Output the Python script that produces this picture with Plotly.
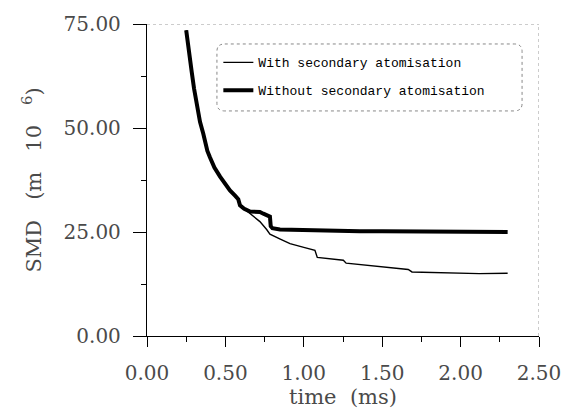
import plotly.graph_objects as go

# Sauter mean diameter history of the spray
time_without = [0.25, 0.27, 0.285, 0.30, 0.317, 0.338, 0.359, 0.37, 0.385, 0.402,
                0.43, 0.466, 0.50, 0.529, 0.56, 0.582, 0.593, 0.62, 0.657, 0.69,
                0.72, 0.742, 0.774, 0.784, 0.789, 0.80, 0.848, 0.95, 1.10, 1.27,
                1.358, 1.50, 1.70, 1.90, 2.10, 2.30]
smd_without = [73.5, 67.0, 63.5, 59.5, 56.0, 51.5, 48.6, 46.7, 44.5, 42.9,
               40.5, 38.3, 36.5, 35.0, 33.8, 32.9, 31.4, 30.6, 29.9, 29.9,
               29.8, 29.4, 28.8, 28.7, 26.4, 25.9, 25.6, 25.5, 25.4, 25.4,
               25.2, 25.2, 25.1, 25.0, 25.0, 25.0]

time_with = [0.25, 0.27, 0.285, 0.30, 0.317, 0.338, 0.359, 0.37, 0.385, 0.402,
             0.43, 0.466, 0.50, 0.529, 0.56, 0.582, 0.593, 0.62, 0.668, 0.72,
             0.763, 0.784, 0.85, 0.912, 1.00, 1.071, 1.086, 1.15, 1.252, 1.27,
             1.358, 1.486, 1.666, 1.69, 1.91, 2.12, 2.30]
smd_with = [73.5, 67.0, 63.5, 59.5, 56.0, 51.5, 48.6, 46.7, 44.5, 42.9,
            40.5, 38.3, 36.5, 35.0, 33.8, 32.9, 31.4, 30.6, 29.1, 27.5,
            25.6, 24.5, 23.3, 22.2, 21.3, 20.6, 18.9, 18.6, 18.2, 17.5,
            17.2, 16.6, 16.0, 15.4, 15.2, 15.0, 15.1]

x_ticks = [0.0, 0.5, 1.0, 1.5, 2.0, 2.5]
y_ticks = [0.0, 25.0, 50.0, 75.0]
series_names = ["With secondary atomisation", "Without secondary atomisation"]

SERIF = "DejaVu Serif"
INK = "#4a4a4a"

fig = go.Figure()
fig.add_trace(go.Scatter(
    x=time_with, y=smd_with, mode="lines", name=series_names[0],
    legendgroup="a", line=dict(color="black", width=1.4),
))
fig.add_trace(go.Scatter(
    x=time_without, y=smd_without, mode="lines", name=series_names[1],
    legendgroup="b", line=dict(color="black", width=4),
))

# dotted top and right frame edges
fig.add_shape(type="line", xref="x", yref="y", x0=0, x1=2.5, y0=75, y1=75,
              line=dict(color="#999999", width=1, dash="dot"))
fig.add_shape(type="line", xref="x", yref="y", x0=2.5, x1=2.5, y0=0, y1=75,
              line=dict(color="#999999", width=1, dash="dot"))

# rounded dotted frame around the legend
lx0, lx1, ly0, ly1 = 0.446, 2.392, 54.1, 70.2
rx, ry = 0.05, 1.8
path = (f"M {lx0+rx},{ly1} L {lx1-rx},{ly1} Q {lx1},{ly1} {lx1},{ly1-ry} "
        f"L {lx1},{ly0+ry} Q {lx1},{ly0} {lx1-rx},{ly0} L {lx0+rx},{ly0} "
        f"Q {lx0},{ly0} {lx0},{ly0+ry} L {lx0},{ly1-ry} Q {lx0},{ly1} {lx0+rx},{ly1} Z")
fig.add_shape(type="path", xref="x", yref="y", path=path,
              line=dict(color="#888888", width=1, dash="dot"))

fig.update_layout(
    width=575, height=412,
    margin=dict(l=147, r=36, t=17, b=69),
    paper_bgcolor="white", plot_bgcolor="white",
    showlegend=True,
    legend=dict(
        x=0.182, y=0.925, xanchor="left", yanchor="top",
        bgcolor="rgba(0,0,0,0)", borderwidth=0,
        font=dict(family="Liberation Mono", size=13, color="black"),
        traceorder="grouped", tracegroupgap=8,
    ),
    font=dict(family=SERIF, color=INK),
)

fig.update_xaxes(
    range=[0, 2.5], tickvals=x_ticks,
    ticktext=[f"{v:.2f}" for v in x_ticks],
    showline=True, linecolor="black", linewidth=1.3,
    ticks="outside", ticklen=10, tickwidth=1.2, tickcolor="black",
    minor=dict(dtick=0.25, ticks="outside", ticklen=5, tickwidth=1.2,
               tickcolor="black", showgrid=False),
    showgrid=False, zeroline=False,
    tickfont=dict(family=SERIF, size=20, color=INK),
    ticklabelstandoff=9,
    title=dict(text="time  (ms)", font=dict(family=SERIF, size=21, color=INK),
               standoff=0),
)
fig.update_yaxes(
    range=[0, 75], tickvals=y_ticks,
    ticktext=[f"{v:.2f}" for v in y_ticks],
    showline=True, linecolor="black", linewidth=1.3,
    ticks="outside", ticklen=13, tickwidth=1.2, tickcolor="black",
    minor=dict(dtick=12.5, ticks="outside", ticklen=5, tickwidth=1.2,
               tickcolor="black", showgrid=False),
    showgrid=False, zeroline=False,
    tickfont=dict(family=SERIF, size=20, color=INK),
    ticklabelstandoff=8,
    title=dict(text="SMD   (m   10   <sup>6</sup>)",
               font=dict(family=SERIF, size=21, color=INK), standoff=16),
)

fig.write_html("out.html")
